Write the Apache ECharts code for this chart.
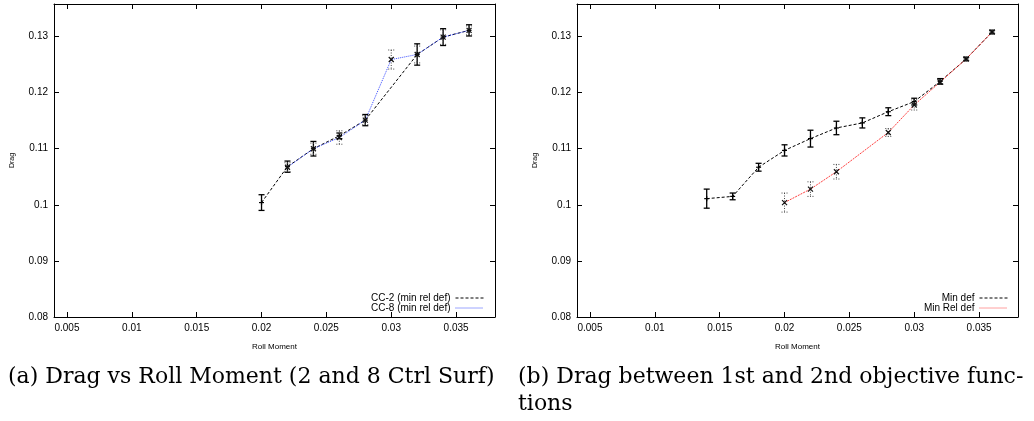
<!DOCTYPE html>
<html>
<head>
<meta charset="utf-8">
<script src="https://cdn.jsdelivr.net/npm/echarts@6/dist/echarts.min.js"></script>
<style>
html,body{margin:0;padding:0;background:#fff;}
#c{width:1034px;height:421px;}
</style>
</head>
<body>
<div id="c"></div>
<script>
// ---- data ----
const xTicks = [0.005, 0.01, 0.015, 0.02, 0.025, 0.03, 0.035];
const yTicks = [0.08, 0.09, 0.1, 0.11, 0.12, 0.13];

// (a) left panel
const xCC2 = [0.020, 0.022, 0.024, 0.026, 0.028, 0.032, 0.034, 0.036];
const yCC2 = [0.1004, 0.1068, 0.1100, 0.1123, 0.1151, 0.1268, 0.1299, 0.1311];
const eCC2 = [0.0014, 0.0010, 0.0013, 0.0005, 0.0010, 0.0019, 0.0015, 0.0010];

const xCC8 = [0.022, 0.024, 0.026, 0.028, 0.030, 0.032, 0.034, 0.036];
const yCC8 = [0.1067, 0.1100, 0.1120, 0.1151, 0.1259, 0.1268, 0.1299, 0.1311];
const eCC8 = [0.0008, 0.0010, 0.0012, 0.0008, 0.0017, 0.0015, 0.0013, 0.0008];

// (b) right panel
const xMin = [0.014, 0.016, 0.018, 0.020, 0.022, 0.024, 0.026, 0.028, 0.030, 0.032, 0.034, 0.036];
const yMin = [0.1011, 0.1015, 0.1067, 0.1097, 0.1118, 0.1137, 0.1146, 0.1166, 0.1184, 0.1220, 0.1260, 0.1308];
const eMin = [0.0017, 0.0006, 0.0007, 0.0010, 0.0015, 0.0012, 0.0009, 0.0007, 0.0006, 0.0005, 0.0003, 0.0003];

const xRel = [0.020, 0.022, 0.024, 0.028, 0.030, 0.032, 0.034, 0.036];
const yRel = [0.1004, 0.1028, 0.1059, 0.1129, 0.1178, 0.1219, 0.1260, 0.1308];
const eRel = [0.0017, 0.0013, 0.0013, 0.0007, 0.0009, 0.0004, 0.0003, 0.0003];

const seriesNames = ['CC-2 (min rel def)', 'CC-8 (min rel def)', 'Min def', 'Min Rel def'];
const captionA = '(a) Drag vs Roll Moment (2 and 8 Ctrl Surf)';
const captionB1 = '(b) Drag between 1st and 2nd objective func-';
const captionB2 = 'tions';

// ---- helpers ----
const zip = (xs, ys) => xs.map((x, i) => [x, ys[i]]);
const zip3 = (xs, ys, es) => xs.map((x, i) => [x, ys[i], es[i]]);
const fmt = v => String(+(+v).toFixed(4));
const SANS = 'Liberation Sans';

const BLACK = '#000', BLUE = '#3a4cff', RED = '#ff4040';
const DASH = [3, 2], DOT = [1, 1], RDASH = [2, 1];

function errRender(kind) {
  return function (params, api) {
    const x = api.value(0), y = api.value(1), e = api.value(2);
    const c = api.coord([x, y]);
    const hi = api.coord([x, y + e]);
    const lo = api.coord([x, y - e]);
    const cap = 3, m = 2.5;
    const barStyle = kind === 'solid'
      ? { stroke: '#000', lineWidth: 1.3 }
      : { stroke: '#444', lineWidth: 1, lineDash: [1, 1.5] };
    const mk = kind === 'solid'
      ? [
          { type: 'line', shape: { x1: c[0] - m, y1: c[1], x2: c[0] + m, y2: c[1] }, style: { stroke: '#000', lineWidth: 1.2 } },
          { type: 'line', shape: { x1: c[0], y1: c[1] - m, x2: c[0], y2: c[1] + m }, style: { stroke: '#000', lineWidth: 1.2 } }
        ]
      : [
          { type: 'line', shape: { x1: c[0] - m, y1: c[1] - m, x2: c[0] + m, y2: c[1] + m }, style: { stroke: '#111', lineWidth: 1.2 } },
          { type: 'line', shape: { x1: c[0] - m, y1: c[1] + m, x2: c[0] + m, y2: c[1] - m }, style: { stroke: '#111', lineWidth: 1.2 } }
        ];
    return {
      type: 'group',
      children: [
        { type: 'line', shape: { x1: hi[0], y1: hi[1], x2: lo[0], y2: lo[1] }, style: barStyle },
        { type: 'line', shape: { x1: hi[0] - cap, y1: hi[1], x2: hi[0] + cap, y2: hi[1] }, style: barStyle },
        { type: 'line', shape: { x1: lo[0] - cap, y1: lo[1], x2: lo[0] + cap, y2: lo[1] }, style: barStyle }
      ].concat(mk)
    };
  };
}

function xAxisPair(gi) {
  const base = {
    gridIndex: gi, type: 'value', min: 0.004, max: 0.038,
    axisLine: { show: true, lineStyle: { color: '#000', width: 1 } },
    splitLine: { show: false },
    axisTick: { show: true, inside: true, length: 5, lineStyle: { color: '#000' }, customValues: xTicks }
  };
  return [
    Object.assign({}, base, {
      position: 'bottom',
      name: 'Roll Moment', nameLocation: 'middle', nameGap: 26,
      nameTextStyle: { fontFamily: SANS, fontSize: 8, color: '#000' },
      axisLabel: { show: true, customValues: xTicks, formatter: fmt, fontFamily: SANS, fontSize: 10, color: '#000', margin: 6 }
    }),
    Object.assign({}, base, { position: 'top', axisLabel: { show: false } })
  ];
}
function yAxisPair(gi) {
  const base = {
    gridIndex: gi, type: 'value', min: 0.08, max: 0.1358,
    axisLine: { show: true, lineStyle: { color: '#000', width: 1 } },
    splitLine: { show: false },
    axisTick: { show: true, inside: true, length: 5, lineStyle: { color: '#000' }, customValues: yTicks }
  };
  return [
    Object.assign({}, base, {
      position: 'left',
      name: 'Drag', nameLocation: 'middle', nameGap: 38, nameRotate: 90,
      nameTextStyle: { fontFamily: SANS, fontSize: 7, color: '#000' },
      axisLabel: { show: true, customValues: yTicks, formatter: fmt, fontFamily: SANS, fontSize: 10, color: '#000', margin: 6 }
    }),
    Object.assign({}, base, { position: 'right', axisLabel: { show: false } })
  ];
}

const chart = echarts.init(document.getElementById('c'), null, { renderer: 'canvas' });

const legendBase = {
  orient: 'vertical', top: 293, align: 'right',
  itemWidth: 28, itemHeight: 10, itemGap: 0, padding: 0,
  itemStyle: { opacity: 0 },
  textStyle: { fontFamily: SANS, fontSize: 10, color: '#000' }
};
const legItem = (name, color, dash) => ({ name: name, lineStyle: { color: color, width: 1, type: dash } });

const option = {
  animation: false,
  backgroundColor: '#fff',
  grid: [
    { left: 54, top: 4, width: 441, height: 313 },
    { left: 577, top: 4, width: 441, height: 313 }
  ],
  xAxis: xAxisPair(0).concat(xAxisPair(1)),
  yAxis: yAxisPair(0).concat(yAxisPair(1)),
  legend: [
    Object.assign({}, legendBase, { data: [legItem(seriesNames[0], BLACK, DASH), legItem(seriesNames[1], BLUE, DOT)], right: 550 }),
    Object.assign({}, legendBase, { data: [legItem(seriesNames[2], BLACK, DASH), legItem(seriesNames[3], RED, DOT)], right: 26 })
  ],
  series: [
    { name: seriesNames[0], type: 'line', xAxisIndex: 0, yAxisIndex: 0, data: zip(xCC2, yCC2),
      symbol: 'none', lineStyle: { color: BLACK, width: 1, type: DASH }, itemStyle: { color: BLACK }, z: 3 },
    { name: seriesNames[1], type: 'line', xAxisIndex: 0, yAxisIndex: 0, data: zip(xCC8, yCC8),
      symbol: 'none', lineStyle: { color: BLUE, width: 1, type: DOT }, itemStyle: { color: BLUE }, z: 4 },
    { type: 'custom', xAxisIndex: 0, yAxisIndex: 0, data: zip3(xCC2, yCC2, eCC2), renderItem: errRender('solid'), z: 5, silent: true },
    { type: 'custom', xAxisIndex: 0, yAxisIndex: 0, data: zip3(xCC8, yCC8, eCC8), renderItem: errRender('dotted'), z: 5, silent: true },

    { name: seriesNames[2], type: 'line', xAxisIndex: 2, yAxisIndex: 2, data: zip(xMin, yMin),
      symbol: 'none', lineStyle: { color: BLACK, width: 1, type: DASH }, itemStyle: { color: BLACK }, z: 3 },
    { name: seriesNames[3], type: 'line', xAxisIndex: 2, yAxisIndex: 2, data: zip(xRel, yRel),
      symbol: 'none', lineStyle: { color: RED, width: 1, type: RDASH }, itemStyle: { color: RED }, z: 4 },
    { type: 'custom', xAxisIndex: 2, yAxisIndex: 2, data: zip3(xMin, yMin, eMin), renderItem: errRender('solid'), z: 5, silent: true },
    { type: 'custom', xAxisIndex: 2, yAxisIndex: 2, data: zip3(xRel, yRel, eRel), renderItem: errRender('dotted'), z: 5, silent: true }
  ],
  graphic: [
    { type: 'text', left: 8, top: 366, style: { text: captionA, font: '22px "DejaVu Serif"', fill: '#000' } },
    { type: 'text', left: 518, top: 366, style: { text: captionB1, font: '22px "DejaVu Serif"', fill: '#000' } },
    { type: 'text', left: 518, top: 393, style: { text: captionB2, font: '22px "DejaVu Serif"', fill: '#000' } }
  ]
};
chart.setOption(option);
</script>
</body>
</html>
